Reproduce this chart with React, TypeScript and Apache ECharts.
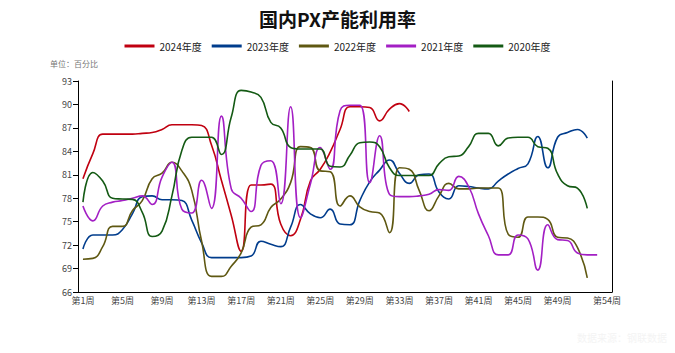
import React, { useEffect, useRef } from "react";
import * as echarts from "echarts";

const weeks: string[] = Array.from({ length: 54 }, (_, i) => `第${i + 1}周`);
const yTicks = { min: 66, max: 93, interval: 3 };

const s2024 = [80.5, 83.7, 86.2, 86.2, 86.2, 86.2, 86.3, 86.4, 86.8, 87.4, 87.4, 87.4, 87.3, 84.8, 80.3, 75.8, 71.2, 79.7, 79.7, 79.8, 74.7, 73.2, 75.3, 80.2, 81.7, 83.9, 86.8, 89.7, 89.7, 89.6, 87.9, 89.4, 90.1, 89.1];
const s2023 = [71.5, 73.3, 73.3, 73.3, 74.0, 76.0, 78.2, 78.3, 77.8, 77.8, 77.7, 75.2, 72.3, 70.4, 70.4, 70.4, 70.4, 70.6, 72.5, 72.1, 71.8, 74.3, 77.2, 76.0, 75.5, 76.6, 74.7, 74.6, 77.7, 80.1, 81.6, 82.9, 81.2, 79.9, 81.0, 81.1, 78.8, 77.9, 79.6, 79.5, 79.3, 79.2, 80.2, 81.1, 81.8, 82.4, 85.9, 81.9, 85.8, 86.4, 86.8, 85.7];
const s2022 = [70.2, 70.3, 71.8, 74.4, 74.4, 76.4, 77.7, 80.5, 81.2, 82.6, 81.5, 79.0, 72.5, 68.0, 68.0, 69.3, 71.0, 74.3, 74.6, 76.8, 77.9, 80.0, 84.6, 84.5, 81.5, 81.4, 77.0, 78.3, 76.9, 76.3, 76.1, 73.6, 81.9, 81.7, 79.0, 76.4, 78.3, 79.9, 79.2, 79.2, 79.3, 79.3, 79.3, 73.4, 73.0, 75.6, 75.6, 75.3, 73.0, 72.9, 71.7, 67.8];
const s2021 = [77.0, 75.1, 77.0, 77.5, 77.7, 78.0, 78.3, 77.2, 80.7, 82.6, 76.6, 76.1, 80.3, 76.7, 88.5, 79.2, 78.0, 76.3, 82.2, 82.8, 77.3, 89.7, 75.5, 79.8, 84.5, 81.7, 89.2, 89.9, 89.9, 80.0, 86.0, 78.5, 78.2, 78.2, 78.3, 78.5, 79.1, 79.0, 80.8, 79.5, 76.0, 73.2, 70.75, 70.75, 73.3, 72.8, 68.8, 74.6, 72.7, 72.6, 71.0, 70.75, 70.75];
const s2020 = [77.5, 81.3, 80.2, 78.0, 77.9, 77.85, 76.2, 73.1, 73.8, 78.3, 84.1, 85.8, 85.8, 85.8, 83.6, 88.4, 91.8, 91.6, 90.9, 87.7, 87.0, 84.5, 84.3, 84.3, 84.3, 82.1, 82.0, 83.5, 85.1, 85.2, 84.6, 81.9, 80.9, 80.9, 80.9, 80.9, 82.4, 83.3, 83.4, 84.6, 86.3, 86.3, 84.7, 85.7, 85.8, 85.8, 84.6, 84.4, 81.1, 79.6, 79.3, 76.7];

const seriesDefs = [
  { name: "2024年度", data: s2024, color: "#c00010" },
  { name: "2023年度", data: s2023, color: "#003c8c" },
  { name: "2022年度", data: s2022, color: "#5f5812" },
  { name: "2021年度", data: s2021, color: "#a31fc4" },
  { name: "2020年度", data: s2020, color: "#145a14" },
];

export default function App() {
  const ref = useRef<HTMLDivElement>(null);
  useEffect(() => {
    if (!ref.current) return;
    const chart = echarts.init(ref.current, null, { renderer: "svg" });
    const font = "'Noto Sans CJK SC', 'Noto Sans', sans-serif";
    chart.setOption({
      animation: false,
      backgroundColor: "#ffffff",
      textStyle: { fontFamily: font },
      title: {
        text: "国内PX产能利用率",
        left: "center",
        top: 4,
        textStyle: { fontSize: 19, fontWeight: "bold", color: "#111", fontFamily: font },
      },
      legend: {
        top: 36,
        left: "center",
        icon: "rect",
        itemWidth: 30,
        itemHeight: 3,
        itemGap: 10,
        textStyle: { fontSize: 10, color: "#222", fontFamily: font },
        data: seriesDefs.map((s) => s.name),
      },
      graphic: [
        {
          type: "text",
          left: 50,
          top: 59,
          style: { text: "单位：百分比", fontSize: 8, fill: "#777", fontFamily: font },
        },
        {
          type: "text",
          left: 577,
          top: 332,
          style: { text: "数据来源：钢联数据", fontSize: 10, fill: "#f4f4f4", fontFamily: font },
        },
      ],
      grid: { left: 78, right: 63, top: 81, bottom: 61, containLabel: false },
      xAxis: {
        type: "category",
        data: weeks,
        boundaryGap: true,
        axisLine: { lineStyle: { color: "#000", width: 1 } },
        axisTick: {
          length: 5,
          lineStyle: { color: "#000" },
          interval: (i: number) => i % 4 === 0,
        },
        axisLabel: {
          fontSize: 9,
          color: "#444",
          margin: 4,
          interval: (i: number) => (i % 4 === 0 && i <= 48) || i === 53,
        },
        splitLine: { show: false },
      },
      yAxis: [
        {
          type: "value",
          min: yTicks.min,
          max: yTicks.max,
          interval: yTicks.interval,
          axisLine: { show: true, lineStyle: { color: "#000", width: 1 } },
          axisTick: { show: true, length: 5, lineStyle: { color: "#000" } },
          axisLabel: { fontSize: 9, color: "#444", margin: 6 },
          splitLine: { show: false },
        },
        {
          type: "value",
          position: "right",
          min: yTicks.min,
          max: yTicks.max,
          interval: yTicks.interval,
          axisLine: { show: true, lineStyle: { color: "#000", width: 1 } },
          axisTick: { show: false },
          axisLabel: { show: false },
          splitLine: { show: false },
        },
      ],
      series: seriesDefs.map((s) => ({
        name: s.name,
        type: "line",
        data: s.data,
        smooth: 0.5,
        showSymbol: false,
        symbol: "none",
        lineStyle: { color: s.color, width: 1.6 },
        itemStyle: { color: s.color },
      })),
    });
    return () => chart.dispose();
  }, []);
  return <div ref={ref} style={{ width: 675, height: 353, position: "absolute", left: 0, top: 0 }} />;
}
